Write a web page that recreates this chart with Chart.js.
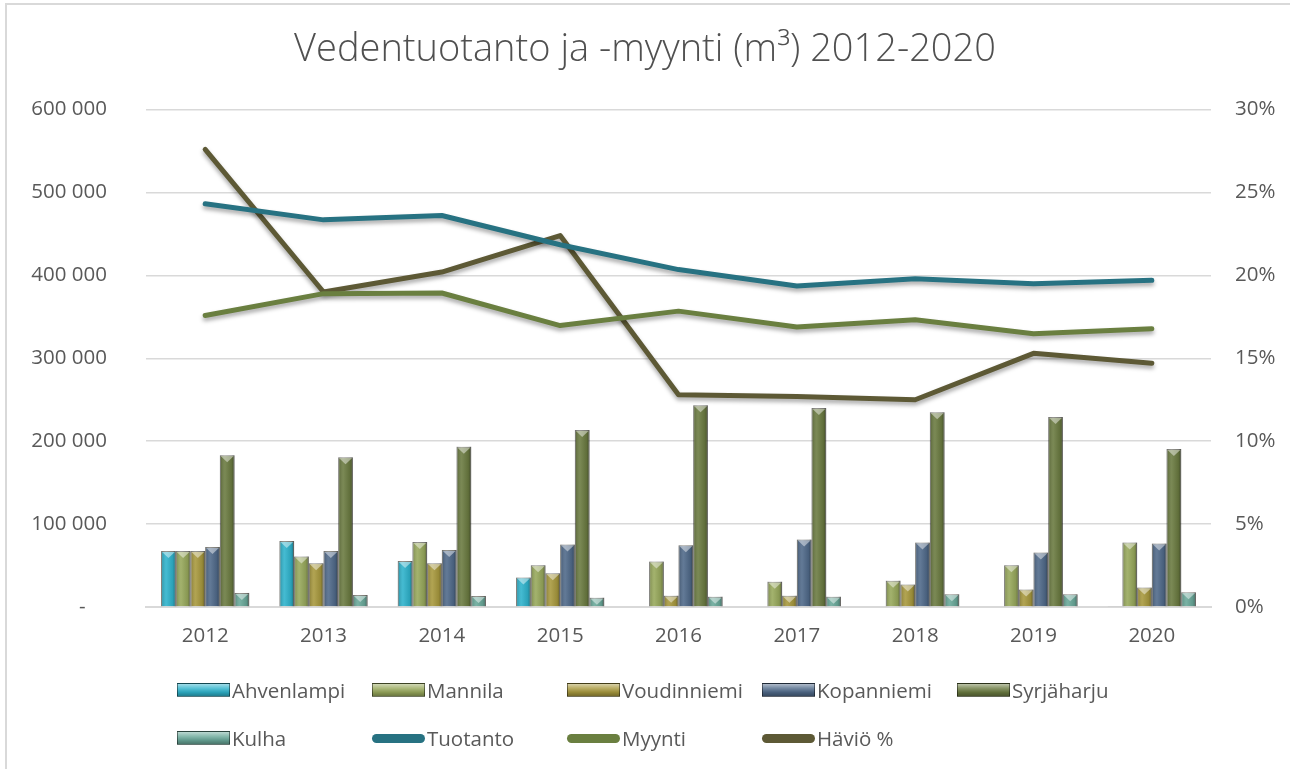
<!DOCTYPE html>
<html>
<head>
<meta charset="utf-8">
<script src="https://cdn.jsdelivr.net/npm/chart.js@4/dist/chart.umd.min.js"></script>
<style>
  body { margin: 0; background: #fff; }
  #wrap { position: relative; width: 1290px; height: 769px; }
  #frame { position: absolute; left: 5px; top: 3px; right: -2px; bottom: -2px; border: 2px solid #d9d9d9; pointer-events: none; }
  #legend { position: absolute; left: 177px; top: 666px; display: grid; grid-template-columns: repeat(5, 195px); grid-auto-rows: 48px;
            font-family: "Open Sans", sans-serif; font-size: 20.5px; color: #595959; }
  .item { display: flex; align-items: center; white-space: nowrap; }
  .sw { width: 53px; height: 14px; margin-right: 2px; flex: none; box-sizing: border-box; border: 1px solid rgba(0,0,0,0.45); }
  .ln { width: 53px; height: 9px; margin-right: 2px; flex: none; border-radius: 5px; }
</style>
</head>
<body>
<div id="wrap">
  <canvas id="c" width="1290" height="769"></canvas>
  <div id="frame"></div>
  <div id="legend"></div>
</div>
<script>
var years = ["2012", "2013", "2014", "2015", "2016", "2017", "2018", "2019", "2020"];

var ahvenlampi  = [67500, 79600, 55500, 35500, null, null, null, null, 1200];
var mannila     = [67500, 61000, 78400, 50300, 54800, 30600, 31800, 50300, 77700];
var voudinniemi = [67500, 52700, 52700, 40600, 13700, 13700, 27000, 21000, 23400];
var kopanniemi  = [72400, 67500, 68800, 75300, 74400, 81300, 77700, 65600, 76500];
var syrjaharju  = [183000, 180500, 193400, 213500, 243300, 240000, 234900, 229200, 190600];
var kulha       = [17000, 14500, 13300, 11300, 12500, 12500, 15300, 15300, 17700];

var tuotanto = [486400, 467000, 472300, 437000, 407000, 387100, 396000, 390000, 394000];
var myynti   = [351700, 378000, 378800, 339500, 356900, 337800, 346600, 329700, 335700];
var havio    = [27.6, 19.0, 20.2, 22.4, 12.8, 12.7, 12.5, 15.3, 14.7];

var leftTicks = [0, 100000, 200000, 300000, 400000, 500000, 600000];
var rightTicks = [0, 5, 10, 15, 20, 25, 30];

var FONT = "'Open Sans', sans-serif";
var GREY = "#595959";

function bar(label, data, color) {
	return { type: "bar", label: label, data: data, backgroundColor: color, borderColor: "rgba(40,40,30,0.55)",
	         borderWidth: 1, yAxisID: "y", order: 2, categoryPercentage: 0.745, barPercentage: 1 };
}
function line(label, data, color, axis) {
	return { type: "line", label: label, data: data, borderColor: color, backgroundColor: color, borderWidth: 5,
	         pointRadius: 0, tension: 0, borderCapStyle: "round", borderJoinStyle: "round", yAxisID: axis, order: 1 };
}

var datasets = [
	bar("Ahvenlampi", ahvenlampi, "#2fb3cc"),
	bar("Mannila", mannila, "#98a95c"),
	bar("Voudinniemi", voudinniemi, "#a8993e"),
	bar("Kopanniemi", kopanniemi, "#506a8a"),
	bar("Syrjäharju", syrjaharju, "#6b7b41"),
	bar("Kulha", kulha, "#6aa99a"),
	line("Tuotanto", tuotanto, "#277282", "y"),
	line("Myynti", myynti, "#6a7f40", "y"),
	line("Häviö %", havio, "#5d5935", "y1")
];

function fmt(v) {
	if (v === 0) return "-    ";
	return String(v).replace(/\B(?=(\d{3})+(?!\d))/g, " ");
}

// bevel look on bars, shadow under lines
var look = {
	id: "look",
	beforeDatasetDraw: function(chart, args) {
		if (args.meta.type === "line") {
			var c = chart.ctx;
			c.save();
			c.shadowColor = "rgba(0,0,0,0.35)";
			c.shadowBlur = 4;
			c.shadowOffsetY = 3;
		}
	},
	afterDatasetDraw: function(chart, args) {
		var c = chart.ctx;
		if (args.meta.type === "line") { c.restore(); return; }
		args.meta.data.forEach(function(el) {
			var h = el.base - el.y;
			if (!(h > 2)) return;
			var l = el.x - el.width / 2, r = el.x + el.width / 2;
			var g = c.createLinearGradient(l, 0, r, 0);
			g.addColorStop(0, "rgba(0,0,0,0.22)");
			g.addColorStop(0.35, "rgba(255,255,255,0.1)");
			g.addColorStop(0.8, "rgba(0,0,0,0.1)");
			g.addColorStop(1, "rgba(0,0,0,0.4)");
			c.save();
			c.fillStyle = g;
			c.fillRect(l, el.y, el.width, h);
			var d = Math.min(7, h);
			c.beginPath();
			c.moveTo(l + 1, el.y + 1);
			c.lineTo(r - 1, el.y + 1);
			c.lineTo(el.x, el.y + d);
			c.closePath();
			c.fillStyle = "rgba(255,255,255,0.45)";
			c.fill();
			c.restore();
		});
	}
};

var chart = new Chart(document.getElementById("c").getContext("2d"), {
	data: { labels: years, datasets: datasets },
	plugins: [look],
	options: {
		responsive: false,
		animation: false,
		layout: { padding: { top: 0, left: 0, right: 0, bottom: 112 } },
		plugins: {
			legend: { display: false },
			tooltip: { enabled: false },
			title: {
				display: true,
				text: "Vedentuotanto ja -myynti (m³) 2012-2020",
				color: "#505050",
				font: { family: FONT, size: 38, weight: 300, lineHeight: 1.2 },
				padding: { top: 27, bottom: 37 }
			}
		},
		scales: {
			x: {
				grid: { display: false },
				border: { display: true, color: "#d9d9d9", width: 2 },
				ticks: { color: GREY, font: { family: FONT, size: 20.5 }, padding: 9 },
				afterFit: function(s) { s.height = 50; }
			},
			y: {
				position: "left",
				min: 0, max: 600000,
				afterBuildTicks: function(s) { s.ticks = leftTicks.map(function(v) { return { value: v }; }); },
				grid: { color: "#d9d9d9", lineWidth: 1.5, drawTicks: false },
				border: { display: false },
				ticks: { color: GREY, font: { family: FONT, size: 20.5 }, padding: 39, callback: fmt },
				afterFit: function(s) { s.width = 146; }
			},
			y1: {
				position: "right",
				min: 0, max: 30,
				afterBuildTicks: function(s) { s.ticks = rightTicks.map(function(v) { return { value: v }; }); },
				grid: { display: false, drawTicks: false },
				border: { display: false },
				ticks: { color: GREY, font: { family: FONT, size: 20.5 }, padding: 24, callback: function(v) { return v + "%"; } },
				afterFit: function(s) { s.width = 79; }
			}
		}
	}
});

// legend in fixed columns like the original
var leg = document.getElementById("legend");
chart.data.datasets.forEach(function(ds) {
	var it = document.createElement("div");
	it.className = "item";
	var sw = document.createElement("span");
	if (ds.type === "bar") {
		sw.className = "sw";
		sw.style.background = "linear-gradient(to bottom, rgba(255,255,255,0.55) 0%, rgba(255,255,255,0.2) 35%, rgba(0,0,0,0.1) 70%, rgba(0,0,0,0.3) 100%), " + ds.backgroundColor;
	} else {
		sw.className = "ln";
		sw.style.background = ds.borderColor;
	}
	var tx = document.createElement("span");
	tx.textContent = ds.label;
	it.appendChild(sw);
	it.appendChild(tx);
	leg.appendChild(it);
});
</script>
</body>
</html>
